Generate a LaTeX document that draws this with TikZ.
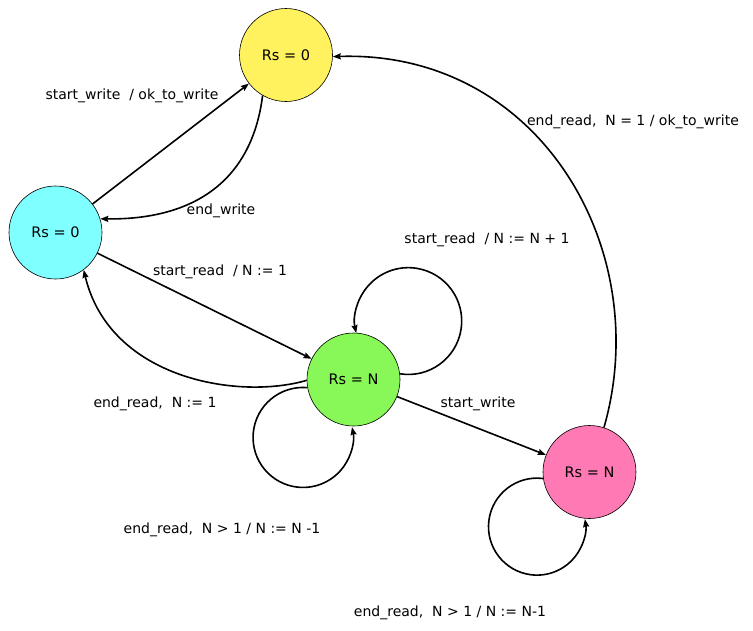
\documentclass[tikz,border=0pt]{standalone}
\usepackage{fontspec}
\setmainfont{DejaVu Sans}
\usetikzlibrary{arrows.meta}
\definecolor{cyellow}{RGB}{255,242,94}
\definecolor{ccyan}{RGB}{127,255,255}
\definecolor{cgreen}{RGB}{136,248,88}
\definecolor{cpink}{RGB}{255,122,180}
\tikzset{
  state/.style={circle, draw=black, line width=0.6pt, minimum size=93pt, inner sep=0pt, font=\fontsize{14.5}{16}\selectfont},
  lbl/.style={inner sep=0pt, font=\fontsize{14}{16}\selectfont},
  arr/.style={line width=1.6pt, -{Stealth[length=8pt,width=6pt,inset=1pt]}},
}
\begin{document}
\begin{tikzpicture}[x=1pt,y=-1pt]
\useasboundingbox[fill=white] (0,0) rectangle (753,630);
\node[state, fill=cyellow] (ny) at (286,55) {Rs = 0};
\node[state, fill=ccyan] (nc) at (55.5,232.5) {Rs = 0};
\node[state, fill=cgreen] (ng) at (353.5,379.5) {Rs = N};
\node[state, fill=cpink] (np) at (589.5,472) {Rs = N};

\draw[arr] (nc) -- (ny);
\draw[arr] (ny.-120) .. controls (252,180) and (195,220) .. (nc.17);
\draw[arr] (nc) -- (ng);
\draw[arr] (ng.181) .. controls (240,400) and (110,380) .. (nc.-53);
\draw[arr] (ng.7) arc[start angle=99, end angle=-193, radius=53.4];
\draw[arr] (ng.190) arc[start angle=-85, end angle=-372, radius=50];
\draw[arr] (ng) -- (np);
\draw[arr] (np.72) .. controls (655,250) and (540,50) .. (ny.-2);
\draw[arr] (np.188.6) arc[start angle=-82.7, end angle=-369, radius=48.5];

\node[lbl] (l1) at (132,96) {start\_write~ / ok\_to\_write};
\node[lbl] (l2) at (221,211) {end\_write};
\node[lbl] (l3) at (220,272) {start\_read~ / N := 1};
\node[lbl] (l4) at (155,404) {end\_read,~ N := 1};
\node[lbl] (l5) at (487,240) {start\_read~ / N := N + 1};
\node[lbl] (l6) at (478,404) {start\_write};
\node[lbl] (l7) at (633,122) {end\_read,~ N = 1 / ok\_to\_write};
\node[lbl] (l8) at (222,530) {end\_read,~ N > 1 / N := N -1};
\node[lbl] (l9) at (450,613) {end\_read,~ N > 1 / N := N-1};
\end{tikzpicture}
\end{document}
